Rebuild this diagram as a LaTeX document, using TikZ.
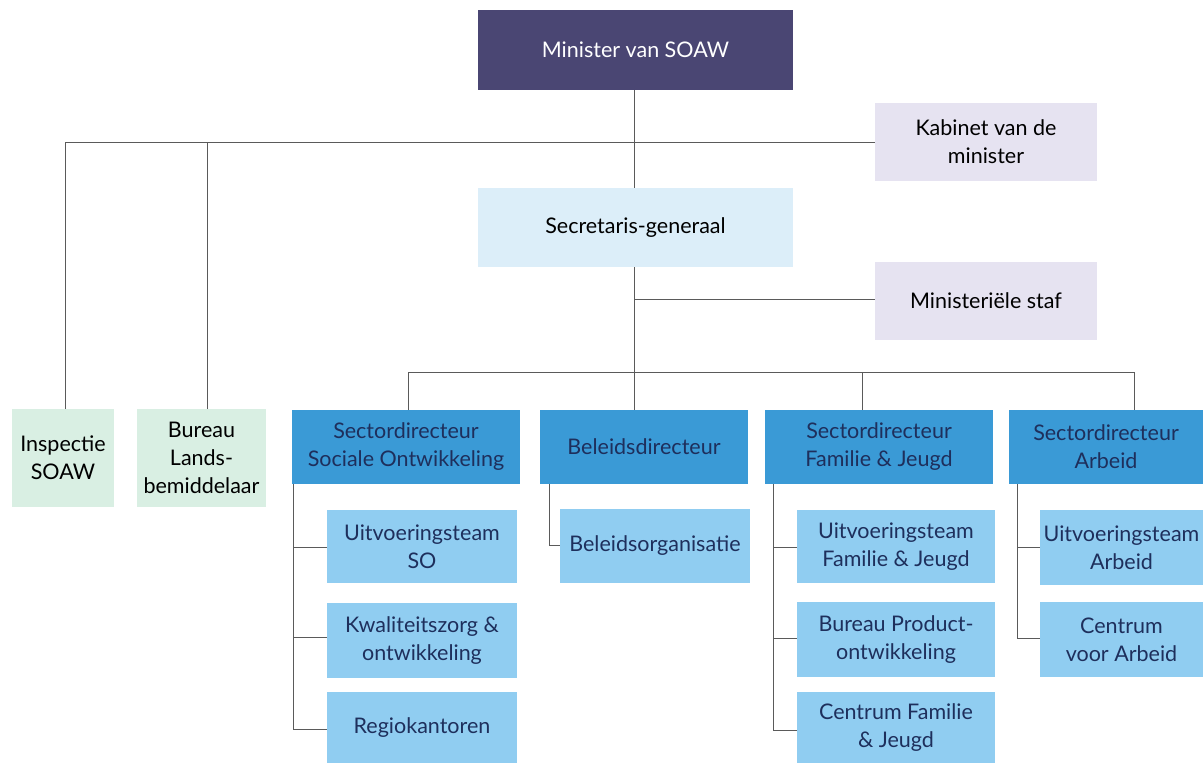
\documentclass[tikz,border=0pt]{standalone}
\usepackage{fontspec}
\setmainfont{Lato}
\definecolor{minC}{HTML}{4A4673}
\definecolor{lavC}{HTML}{E6E3F1}
\definecolor{sgC}{HTML}{DCEEF9}
\definecolor{grnC}{HTML}{D9EFE3}
\definecolor{dirC}{HTML}{3A9AD6}
\definecolor{subC}{HTML}{90CDF1}
\definecolor{navyC}{HTML}{1E2F5C}
\definecolor{lineC}{HTML}{5A5A5A}
\begin{document}
\begin{tikzpicture}[x=1pt,y=-1pt,
  box/.style={inner sep=0pt,outer sep=0pt,align=center,anchor=north west,font=\fontsize{21.5}{28}\selectfont},
  dirbox/.style={box,fill=dirC,text=navyC},
  subbox/.style={box,fill=subC,text=navyC},
  conn/.style={draw=lineC,line width=1pt}]
\useasboundingbox[fill=white] (0,0) rectangle (1203,763);
% boxes
\node[box,fill=minC,text=white,minimum width=315,minimum height=80] (min) at (478,10) {Minister van SOAW};
\node[box,fill=lavC,minimum width=222,minimum height=78] (kab) at (875,103) {Kabinet van de\\minister};
\node[box,fill=sgC,minimum width=315,minimum height=79] (sg) at (478,188) {Secretaris-generaal};
\node[box,fill=lavC,minimum width=222,minimum height=78] (staf) at (875,262) {Ministeriële staf};
\node[box,fill=grnC,minimum width=102,minimum height=98] (insp) at (12,409) {Inspectie\\SOAW};
\node[box,fill=grnC,minimum width=129,minimum height=98] (bur) at (137,409) {Bureau\\Lands-\\bemiddelaar};
\node[dirbox,minimum width=228,minimum height=74] (dso) at (292,410) {Sectordirecteur\\Sociale Ontwikkeling};
\node[dirbox,minimum width=208,minimum height=74] (dbel) at (540,410) {Beleidsdirecteur};
\node[dirbox,minimum width=228,minimum height=74] (dfj) at (765,410) {Sectordirecteur\\Familie \& Jeugd};
\node[dirbox,minimum width=194,minimum height=74] (darb) at (1009,410) {Sectordirecteur\\Arbeid};
\node[subbox,minimum width=190,minimum height=73] (so1) at (327,510) {Uitvoeringsteam\\SO};
\node[subbox,minimum width=190,minimum height=75] (so2) at (327,603) {Kwaliteitszorg \&\\ontwikkeling};
\node[subbox,minimum width=190,minimum height=71] (so3) at (327,692) {Regiokantoren};
\node[subbox,minimum width=190,minimum height=74] (bel1) at (560,509) {Beleidsorganisatie};
\node[subbox,minimum width=198,minimum height=73] (fj1) at (797,510) {Uitvoeringsteam\\Familie \& Jeugd};
\node[subbox,minimum width=198,minimum height=75] (fj2) at (797,602) {Bureau Product-\\ontwikkeling};
\node[subbox,minimum width=198,minimum height=71] (fj3) at (797,692) {Centrum Familie\\\& Jeugd};
\node[subbox,minimum width=163,minimum height=75] (ar1) at (1040,510) {Uitvoeringsteam\\Arbeid};
\node[subbox,minimum width=163,minimum height=75] (ar2) at (1040,602) {Centrum\\voor Arbeid};
% connectors
\coordinate (j1) at (634,142);
\coordinate (j2) at (634,299);
\coordinate (j3) at (634,372);
\draw[conn] (min.south -| j1) -- (sg.north -| j1);
\draw[conn] (insp.north -| 65,0) |- (kab.west |- j1);
\draw[conn] (bur.north -| 207,0) -- (207,142);
\draw[conn] (sg.south -| j2) -- (j3);
\draw[conn] (j2) -- (staf.west |- j2);
\draw[conn] (dso.north -| 408,0) -- (408,372) -- (1134,372) -- (darb.north -| 1134,0);
\draw[conn] (j3) -- (dbel.north -| j3);
\draw[conn] (862,372) -- (dfj.north -| 862,0);
% SO
\draw[conn] (dso.south -| 293,0) |- (so3.west |- 0,729);
\draw[conn] (293,547) -- (so1.west |- 0,547);
\draw[conn] (293,637) -- (so2.west |- 0,637);
% Beleid
\draw[conn] (dbel.south -| 549,0) |- (bel1.west |- 0,545);
% FJ
\draw[conn] (dfj.south -| 773,0) |- (fj3.west |- 0,730);
\draw[conn] (773,547) -- (fj1.west |- 0,547);
\draw[conn] (773,638) -- (fj2.west |- 0,638);
% Arbeid
\draw[conn] (darb.south -| 1017,0) |- (ar2.west |- 0,638);
\draw[conn] (1017,547) -- (ar1.west |- 0,547);
\end{tikzpicture}
\end{document}
